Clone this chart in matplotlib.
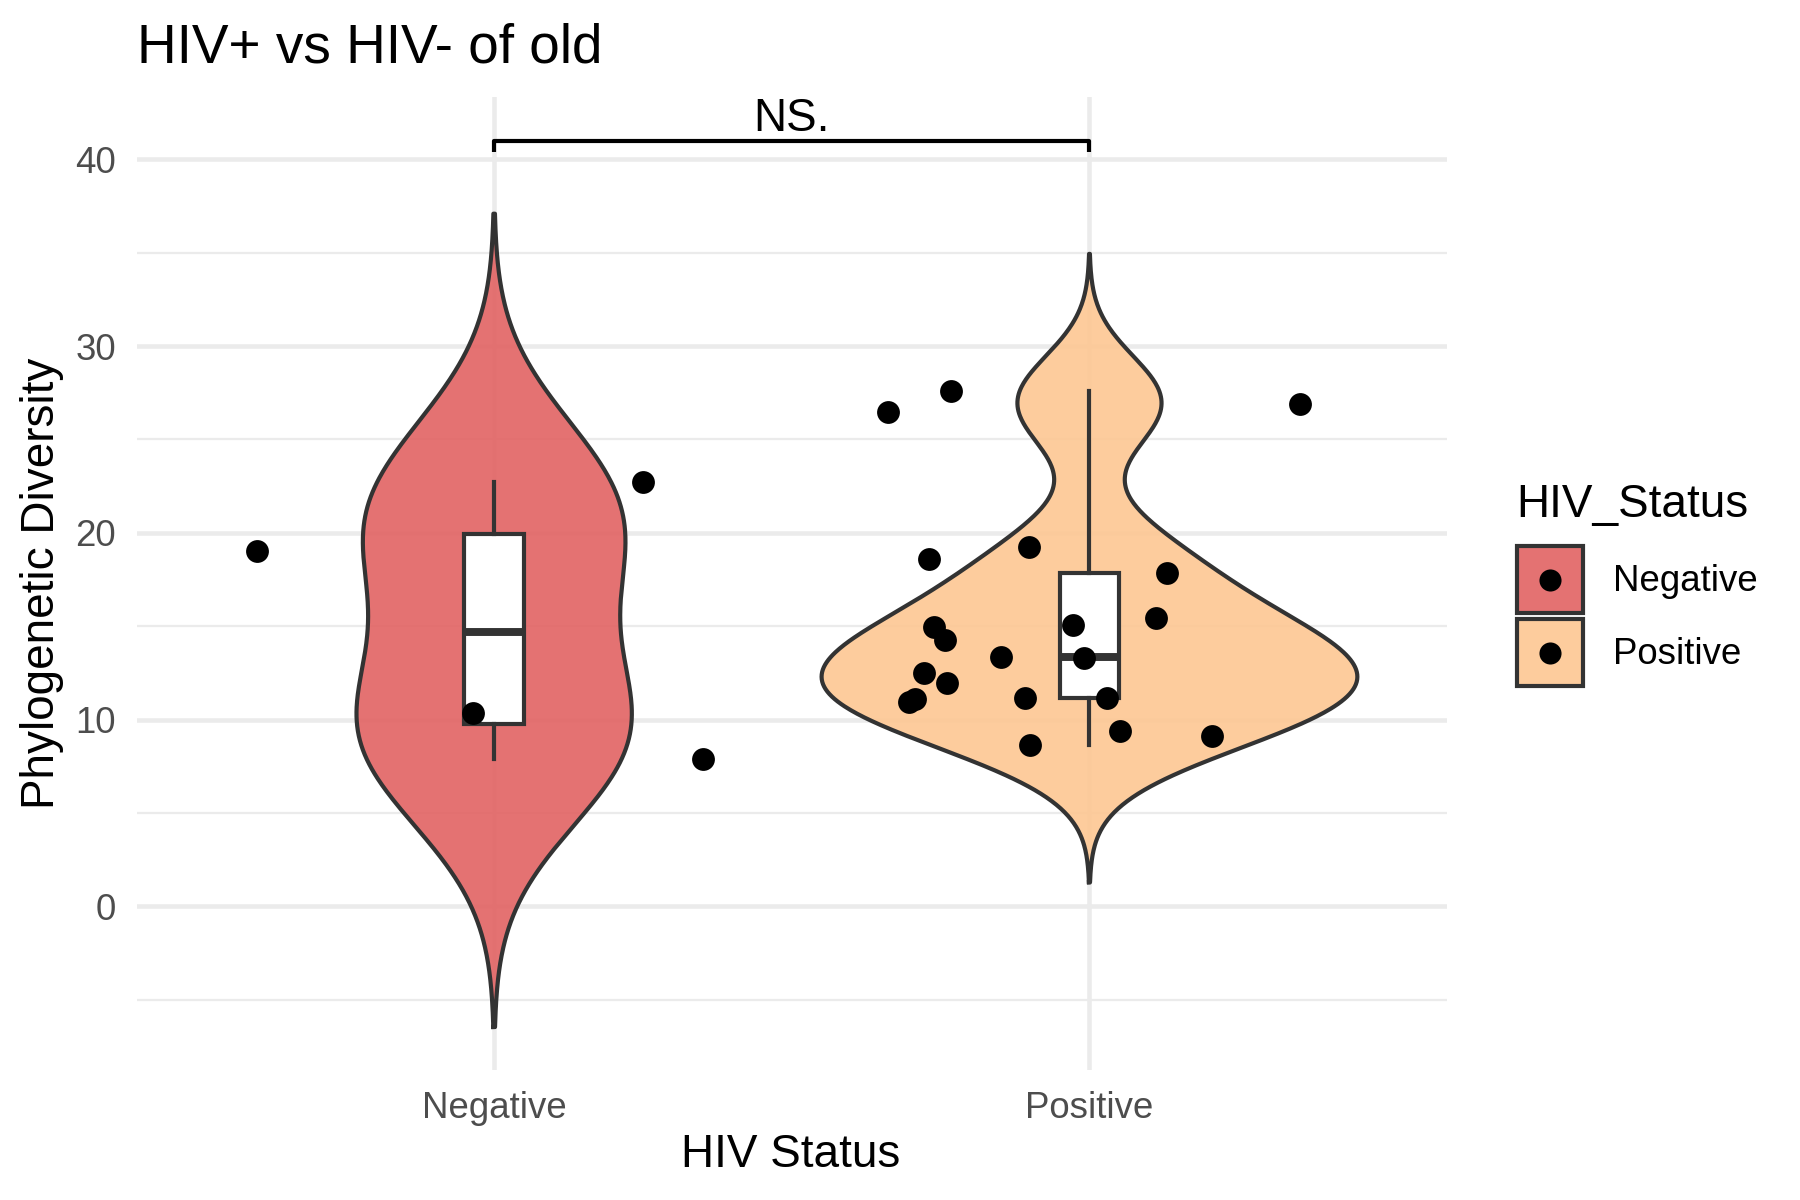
import numpy as np
import matplotlib
matplotlib.use("Agg")
import matplotlib.pyplot as plt
from matplotlib.patches import Patch, Rectangle
from matplotlib.lines import Line2D
from matplotlib.colors import to_rgba

plt.rcParams['font.family'] = ['Liberation Sans', 'DejaVu Sans']

# groups and fills
groups = ['Negative', 'Positive']
fill_colors = ['#E26363', '#FDC793']

# phylogenetic diversity per sample, with the horizontal jitter seen in the plot
neg_pd = [19.04, 22.72, 10.36, 7.90]
neg_jitter = [-0.399, 0.250, -0.035, 0.350]

pos_pd = [26.47, 27.59, 26.88, 19.23, 18.57, 17.86, 15.45, 15.06, 14.93, 14.25,
          13.36, 13.27, 12.47, 11.97, 10.93, 11.12, 11.16, 11.16, 9.38, 9.11, 8.63]
pos_jitter = [-0.338, -0.232, 0.354, -0.101, -0.269, 0.130, 0.112, -0.028, -0.262, -0.242,
              -0.149, -0.009, -0.278, -0.240, -0.303, -0.293, -0.109, 0.029, 0.052, 0.205, -0.100]

sig_label = 'NS.'
bracket_y = 40.97
bracket_tip = 40.41

data = [neg_pd, pos_pd]
jitters = [neg_jitter, pos_jitter]
dark = '#333333'
lw_line = 1.0


def bw_nrd0(v):
    v = np.asarray(v)
    sd = np.std(v, ddof=1)
    q75, q25 = np.percentile(v, [75, 25])
    return 0.9 * min(sd, (q75 - q25) / 1.34) * len(v) ** -0.2


def ydensity(v, cut=3, n=512):
    v = np.asarray(v)
    bw = bw_nrd0(v)
    grid = np.linspace(v.min() - cut * bw, v.max() + cut * bw, n)
    z = (grid[:, None] - v[None, :]) / bw
    dens = np.exp(-0.5 * z ** 2).sum(axis=1) / (len(v) * bw * np.sqrt(2 * np.pi))
    return grid, dens


class KeyHandler:
    # filled square with a dot in the middle, like the ggplot key
    def legend_artist(self, legend, orig_handle, fontsize, handlebox):
        x0, y0 = -handlebox.xdescent, -handlebox.ydescent
        w, h = handlebox.width, handlebox.height
        tr = handlebox.get_transform()
        rect = Rectangle((x0, y0), w, h, facecolor=to_rgba(orig_handle.get_facecolor(), 0.9),
                         edgecolor=dark, linewidth=lw_line, transform=tr)
        dot = Line2D([x0 + w / 2], [y0 + h / 2], marker='o', ls='', color='black',
                     markersize=5.3, markeredgewidth=0, transform=tr)
        handlebox.add_artist(rect)
        handlebox.add_artist(dot)
        return rect


fig = plt.figure(figsize=(6, 4), dpi=300)
ax = fig.add_axes([0.0761, 0.1083, 0.8037 - 0.0761, 0.9194 - 0.1083])

# violins (scale = "area": common max density)
dens = [ydensity(v) for v in data]
dmax = max(d.max() for _, d in dens)
for i, (grid, d) in enumerate(dens):
    pos = i + 1
    half = 0.45 * d / dmax
    xs = np.concatenate([pos - half, (pos + half)[::-1]])
    ys = np.concatenate([grid, grid[::-1]])
    ax.fill(xs, ys, facecolor=fill_colors[i], alpha=0.9, edgecolor='none', zorder=2)
    ax.plot(np.append(xs, xs[0]), np.append(ys, ys[0]), color=dark, lw=lw_line, zorder=2.1)

# boxplots
ax.boxplot(data, positions=[1, 2], widths=0.1, patch_artist=True, showfliers=False,
           showcaps=False, manage_ticks=False,
           boxprops=dict(facecolor='white', edgecolor=dark, linewidth=lw_line),
           medianprops=dict(color=dark, linewidth=1.9, solid_capstyle='butt'),
           whiskerprops=dict(color=dark, linewidth=lw_line),
           zorder=3)

# jittered points
for i in range(2):
    xs = [i + 1 + j for j in jitters[i]]
    ax.scatter(xs, data[i], s=30, color='black', linewidths=0, zorder=4)

# significance bracket
ax.plot([1, 1, 2, 2], [bracket_tip, bracket_y, bracket_y, bracket_tip], color='black',
        lw=1.0, zorder=5, solid_capstyle='butt')
ax.annotate(sig_label, xy=(1.5, bracket_y), xytext=(0, 2.4), textcoords='offset points',
            ha='center', va='baseline', fontsize=11)

ax.set_xlim(0.4, 2.6)
ax.set_ylim(-8.77, 43.35)
ax.set_xticks([1, 2])
ax.set_xticklabels(groups)
ax.set_yticks([0, 10, 20, 30, 40])
ax.set_yticks([-5, 5, 15, 25, 35], minor=True)
ax.tick_params(axis='both', which='both', length=0, labelsize=8.8, labelcolor='#4D4D4D')
ax.tick_params(axis='x', pad=5.0)
ax.tick_params(axis='y', pad=5.0)
ax.grid(True, which='major', color='#EBEBEB', lw=1.1)
ax.grid(True, which='minor', axis='y', color='#EBEBEB', lw=0.55)
ax.set_axisbelow(True)
for s in ax.spines.values():
    s.set_visible(False)

fig.text(0.0761, 1 - 62.7 / 1200, 'HIV+ vs HIV- of old', fontsize=13.2, ha='left', va='baseline')
fig.text(791 / 1800, 1 - 1166.7 / 1200, 'HIV Status', fontsize=11, ha='center', va='baseline')
fig.text(20 / 1800, 1 - 583 / 1200, 'Phylogenetic Diversity', fontsize=11, rotation=90,
         ha='left', va='center')

handles = [Patch(facecolor=c) for c in fill_colors]
leg = fig.legend(handles, groups, title='HIV_Status', loc='center left',
                 bbox_to_anchor=(0.8426, 0.513), bbox_transform=fig.transFigure,
                 frameon=False, fontsize=8.8, title_fontsize=11, borderpad=0,
                 borderaxespad=0, handlelength=1.818, handleheight=2.42,
                 handletextpad=0.8, labelspacing=0.18, alignment='left',
                 handler_map={Patch: KeyHandler()})
leg._legend_box.sep = 4.7

fig.savefig('out.png', dpi=300)
